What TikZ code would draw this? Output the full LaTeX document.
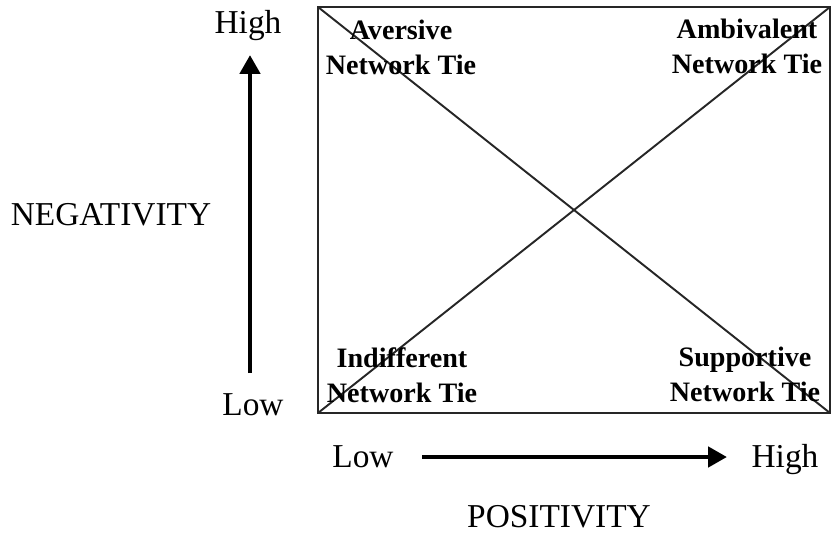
\documentclass[tikz,border=0pt]{standalone}
\usepackage{fontspec}
\setmainfont{Liberation Serif}
\usetikzlibrary{arrows.meta}

\begin{document}
\begin{tikzpicture}[x=0.02cm,y=-0.02cm,
    lbl/.style={font=\fontsize{19}{23}\selectfont, anchor=base, inner sep=0pt},
    tie/.style={font=\bfseries\fontsize{16}{19.4}\selectfont, align=center, anchor=base, inner sep=0pt},
    axis/.style={line width=2.8pt, -{Triangle[length=0.38cm,width=0.4cm]}},
    frame/.style={line width=1.1pt, black!85}]
    \useasboundingbox (0,0) rectangle (834,534);
    % corners of the square
    \coordinate (nw) at (318,7);
    \coordinate (ne) at (830,7);
    \coordinate (sw) at (318,413);
    \coordinate (se) at (830,413);
    \draw[frame] (nw) rectangle (se);
    \draw[frame] (nw) -- (se);
    \draw[frame] (sw) -- (ne);
    % the four kinds of tie
    \node[tie] (aversive) at (401,74) {Aversive\\Network Tie};
    \node[tie] (ambivalent) at (747,73) {Ambivalent\\Network Tie};
    \node[tie] (indifferent) at (402,402) {Indifferent\\Network Tie};
    \node[tie] (supportive) at (745,401) {Supportive\\Network Tie};
    % negativity axis
    \node[lbl] (yhigh) at (248,33) {High};
    \node[lbl] (ylow) at (253,415) {Low};
    \node[lbl] (neg) at (111,225) {NEGATIVITY};
    \coordinate (ytail) at (250,373);
    \coordinate (ytip) at (250,55);
    \draw[axis] (ytail) -- (ytip);
    % positivity axis
    \node[lbl] (xlow) at (363,467) {Low};
    \node[lbl] (xhigh) at (785,467) {High};
    \node[lbl] (pos) at (559,527) {POSITIVITY};
    \coordinate (xtail) at (422,457);
    \coordinate (xtip) at (727,457);
    \draw[axis] (xtail) -- (xtip);
\end{tikzpicture}
\end{document}
